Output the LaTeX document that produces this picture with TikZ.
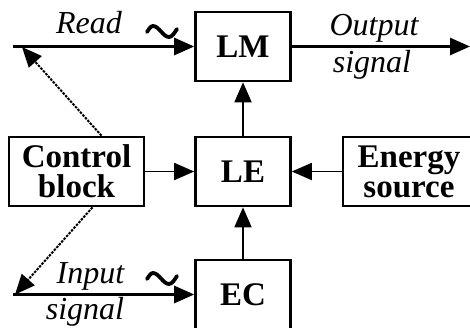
\documentclass[tikz,border=0pt]{standalone}
\usepackage{fontspec}
\setmainfont{Liberation Serif}
\usetikzlibrary{arrows.meta}
\begin{document}
\begin{tikzpicture}[x=1pt,y=-1pt,
  box/.style={draw, line width=2.6pt, minimum width=95pt, minimum height=69pt, inner sep=0pt,
    font=\fontsize{33}{30}\selectfont\bfseries, align=center},
  lbl/.style={font=\fontsize{32}{32}\selectfont\itshape, inner sep=0pt},
  tipa/.style={-{Triangle[length=20pt,width=17pt]}},
  sig/.style={line width=2.8pt},
  conn/.style={line width=1.8pt},
  dsh/.style={line width=2pt, dash pattern=on 2.5pt off 1.2pt},
  tld/.style={line width=3.8pt, line cap=round}]
\useasboundingbox (0,0) rectangle (470,327);
\node[box] (LM) at (243,46.5) {LM};
\node[box] (LE) at (243,171.5) {LE};
\node[box] (EC) at (243,294.5) {EC};
\node[box, minimum width=135pt] (CB) at (76.5,171.5) {Control\\block};
\node[box, minimum width=132pt] (ES) at (409,171.5) {Energy\\source};
\coordinate (rs) at (13,46.5);
\coordinate (oe) at (470,46.5);
\coordinate (rt) at (22,47);
\coordinate (is) at (13,294.5);
\coordinate (it) at (15,294.5);
\draw[sig,tipa] (rs) -- (LM.west);
\draw[sig,tipa] (LM.east) -- (oe);
\draw[sig,tipa] (is) -- (EC.west);
\draw[conn,tipa] (LE.north) -- (LM.south);
\draw[conn,tipa] (EC.north) -- (LE.south);
\draw[conn,tipa] (CB.east) -- (LE.west);
\draw[conn,tipa] (ES.west) -- (LE.east);
\draw[dsh,tipa] ([xshift=25pt]CB.north) -- (rt);
\draw[dsh,tipa] ([xshift=16pt]CB.south) -- (it);
\node[lbl, anchor=base] (rd) at (89,33) {Read};
\node[lbl, anchor=base] (ot) at (374,35) {Output};
\node[lbl, anchor=base] (osg) at (372,72) {signal};
\node[lbl, anchor=base] (inp) at (90.5,283) {Input};
\node[lbl, anchor=base] (isg) at (85,319) {signal};
\draw[tld] (147,32) sin (153,26) cos (161,31.5) sin (169,37) cos (177,29);
\draw[tld] (147,279) sin (153,273) cos (161,278.5) sin (169,284) cos (177,276);
\end{tikzpicture}
\end{document}
